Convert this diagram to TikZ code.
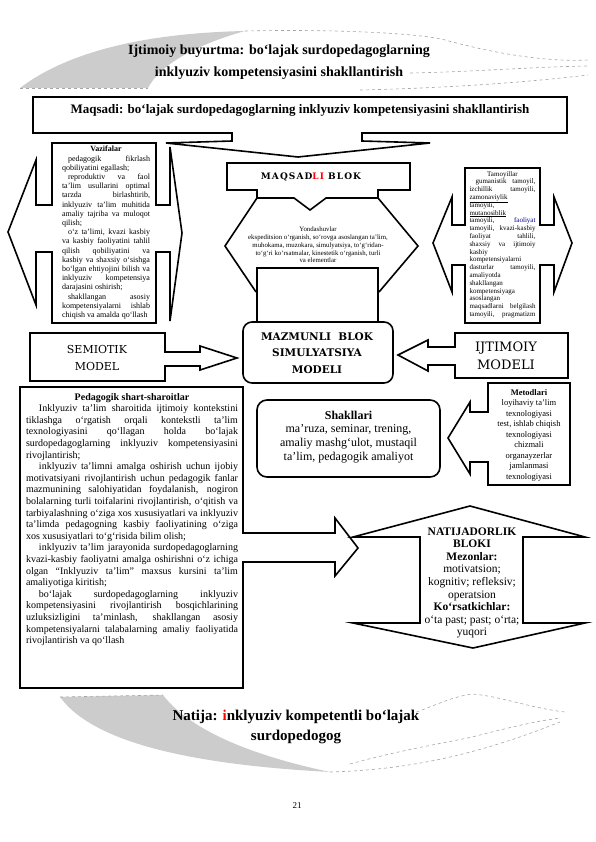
\documentclass[tikz,border=0pt]{standalone}
\usepackage{fontspec}
\setmainfont{Liberation Serif}
\newfontfamily\dvs{DejaVu Serif}
\newfontfamily\dvsls[LetterSpace=12]{DejaVu Serif}
\newlength\jw
\newcommand\JLine[1]{\hbox to\jw{\spaceskip=0.25em plus 3em minus 0.08em\relax #1}}
\newcommand\PLine[1]{\hbox to\jw{#1\hfil}}
\newcommand\CLine[1]{\hbox to\jw{\hfil#1\hfil}}
\tikzset{
  shp/.style={draw=black, line width=1.6pt, fill=white, line join=miter},
  band/.style={draw=gray!70, dashed, line width=0.6pt},
  bandfill/.style={fill=gray!40, draw=none},
  para/.style={anchor=north, inner sep=0pt},
}
\begin{document}
\begin{tikzpicture}[x=1pt,y=-1pt]
\useasboundingbox (0,0) rectangle (595,842);

% ---------- top banner ----------
\fill[bandfill] (20,88) .. controls (70,50) and (150,33) .. (245,31) .. controls (195,45) and (160,65) .. (148,88) -- cycle;
\draw[band] (20,88) -- (148,88);
\draw[band] (245,31) .. controls (330,29) and (420,33) .. (445,40) .. controls (500,55) and (550,62) .. (588,60);
\draw[band] (410,73) .. controls (470,72) and (530,67) .. (588,66);
\draw[band] (360,90) .. controls (450,88) and (530,82) .. (588,75);
\node[font=\fontsize{14}{22}\selectfont\bfseries, align=center] (title) at (279,62)
  {Ijtimoiy buyurtma: bo‘lajak surdopedagoglarning\\inklyuziv kompetensiyasini shakllantirish};

% ---------- Maqsadi ----------
\draw[shp] (33,97) -- (567,97) -- (567,133) -- (362,133) -- (362,141) -- (430,143) -- (298,157)
  -- (166,143) -- (232,141) -- (232,133) -- (33,133) -- cycle;
\node[font=\fontsize{13}{15}\selectfont\bfseries] (maqsadi) at (300,110)
  {Maqsadi: bo‘lajak surdopedagoglarning inklyuziv kompetensiyasini shakllantirish};

% ---------- Vazifalar ----------
\draw[shp] (52,143) -- (156,143) -- (156,205) -- (170,205) -- (170,147) -- (182,233) -- (170,321)
  -- (170,252) -- (156,252) -- (156,323) -- (52,323) -- (52,252) -- (36,252) -- (36,305)
  -- (8,232) -- (36,160) -- (36,205) -- (52,205) -- cycle;
\node[para, font=\fontsize{8}{9.2}\selectfont] (vaz) at (106,146) {\setlength\jw{88pt}%
\vbox{\hsize=\jw\baselineskip=9.2pt\lineskiplimit=-5pt
\CLine{\bfseries Vazifalar}
\JLine{\hspace*{6pt}pedagogik fikrlash}
\PLine{qobiliyatini egallash;}
\JLine{\hspace*{6pt}reproduktiv va faol}
\JLine{ta’lim usullarini optimal}
\JLine{tarzda birlashtirib,}
\JLine{inklyuziv ta’lim muhitida}
\JLine{amaliy tajriba va muloqot}
\PLine{qilish;}
\JLine{\hspace*{6pt}o‘z ta’limi, kvazi kasbiy}
\JLine{va kasbiy faoliyatini tahlil}
\JLine{qilish qobiliyatini va}
\JLine{kasbiy va shaxsiy o‘sishga}
\JLine{bo‘lgan ehtiyojini bilish va}
\JLine{inklyuziv kompetensiya}
\PLine{darajasini oshirish;}
\JLine{\hspace*{6pt}shakllangan asosiy}
\JLine{kompetensiyalarni ishlab}
\PLine{chiqish va amalda qo‘llash}}};

% ---------- Yondashuvlar ----------
\fill[white] (257,198) -- (378,198) -- (418,246) -- (380,292) -- (255,292) -- (225,246) -- cycle;
\draw[shp, fill=none] (257,198) -- (225,246) -- (256,292);
\draw[shp, fill=none] (378,198) -- (418,246) -- (379,292);
\draw[shp] (257,268) rectangle (378,330);
\node[align=center, font=\fontsize{6.8}{7.8}\selectfont] (yond) at (318,245)
  {Yondashuvlar\\
   ekspeditsion o‘rganish, so‘rovga asoslangan ta’lim,\\
   muhokama, muzokara, simulyatsiya, to‘g‘ridan-\\
   to‘g‘ri ko‘rsatmalar, kinestetik o‘rganish, turli\\
   va elementlar};

% ---------- MAQSADLI BLOK ----------
\draw[shp] (227,163) -- (410,163) -- (410,190) -- (378,190) -- (378,198) -- (326,198) -- (310,210)
  -- (294,198) -- (257,198) -- (257,190) -- (227,190) -- cycle;
\node[font=\dvsls\bfseries\fontsize{9}{11}\selectfont] (maqblok) at (311,177)
  {MAQSAD\textcolor{red}{LI} BLOK};

% ---------- Tamoyillar ----------
\draw[shp] (465,168) -- (540,168) -- (540,225) -- (554,225) -- (554,197) -- (572,243) -- (554,292)
  -- (554,265) -- (540,265) -- (540,323) -- (465,323) -- (465,265) -- (452,265) -- (452,292)
  -- (433,243) -- (452,197) -- (452,225) -- (465,225) -- cycle;
\node[para, font=\fontsize{7}{7.8}\selectfont] (tam) at (502.5,171) {\setlength\jw{66pt}%
\vbox{\hsize=\jw\baselineskip=7.8pt\lineskiplimit=-5pt
\CLine{Tamoyillar}
\JLine{\hspace*{6pt}gumanistik tamoyil,}
\JLine{izchillik tamoyili,}
\PLine{\underline{zamonaviylik}}
\PLine{tamoyili,}
\PLine{\underline{mutanosiblik}}
\JLine{tamoyili, \textcolor{blue!60!black}{faoliyat}}
\JLine{tamoyili, kvazi-kasbiy}
\JLine{faoliyat tahlili,}
\JLine{shaxsiy va ijtimoiy}
\PLine{kasbiy}
\PLine{kompetensiyalarni}
\JLine{dasturlar tamoyili,}
\PLine{amaliyotda}
\PLine{shakllangan}
\PLine{kompetensiyaga}
\PLine{asoslangan}
\JLine{maqsadlarni belgilash}
\JLine{tamoyili, pragmatizm}}};

% ---------- SEMIOTIK MODEL ----------
\draw[shp] (30,333) -- (165,333) -- (165,352) -- (200,352) -- (200,346) -- (237,358) -- (200,370)
  -- (200,366) -- (165,366) -- (165,381) -- (30,381) -- cycle;
\node[align=center, font=\dvs\fontsize{11}{17}\selectfont] (semt) at (97,358) {SEMIOTIK\\MODEL};

% ---------- MAZMUNLI BLOK ----------
\draw[shp, rounded corners=9pt] (243,322) rectangle (393,383);
\node[align=center, font=\dvs\bfseries\fontsize{10.5}{16.5}\selectfont] (mazt) at (317,353)
  {MAZMUNLI\ \ BLOK\\SIMULYATSIYA\\MODELI};

% ---------- IJTIMOIY MODELI ----------
\draw[shp] (568,333) -- (455,333) -- (455,347) -- (428,347) -- (428,340) -- (398,355) -- (428,371)
  -- (428,365) -- (455,365) -- (455,378) -- (568,378) -- cycle;
\node[align=center, font=\dvs\fontsize{13}{18}\selectfont] (ijtt) at (506,356) {IJTIMOIY\\MODELI};

% ---------- Pedagogik shart-sharoitlar ----------
\draw[shp] (20,387) -- (243,387) -- (243,533) -- (335,533) -- (335,518) -- (358,548) -- (335,576)
  -- (335,562) -- (243,562) -- (243,688) -- (20,688) -- cycle;
\node[para, font=\fontsize{10}{11.6}\selectfont] (ped) at (132,393) {\setlength\jw{212pt}%
\vbox{\hsize=\jw\baselineskip=11.6pt\lineskiplimit=-5pt
\CLine{\bfseries Pedagogik shart-sharoitlar}
\JLine{\hspace*{13pt}Inklyuziv ta’lim sharoitida ijtimoiy kontekstini}
\JLine{tiklashga o‘rgatish orqali kontekstli ta’lim}
\JLine{texnologiyasini qo‘llagan holda bo‘lajak}
\JLine{surdopedagoglarning inklyuziv kompetensiyasini}
\PLine{rivojlantirish;}
\JLine{\hspace*{13pt}inklyuziv ta’limni amalga oshirish uchun ijobiy}
\JLine{motivatsiyani rivojlantirish uchun pedagogik fanlar}
\JLine{mazmunining salohiyatidan foydalanish, nogiron}
\JLine{bolalarning turli toifalarini rivojlantirish, o‘qitish va}
\JLine{tarbiyalashning o‘ziga xos xususiyatlari va inklyuziv}
\JLine{ta’limda pedagogning kasbiy faoliyatining o‘ziga}
\PLine{xos xususiyatlari to‘g‘risida bilim olish;}
\JLine{\hspace*{13pt}inklyuziv ta’lim jarayonida surdopedagoglarning}
\JLine{kvazi-kasbiy faoliyatni amalga oshirishni o‘z ichiga}
\JLine{olgan “Inklyuziv ta’lim” maxsus kursini ta’lim}
\PLine{amaliyotiga kiritish;}
\JLine{\hspace*{13pt}bo‘lajak surdopedagoglarning inklyuziv}
\JLine{kompetensiyasini rivojlantirish bosqichlarining}
\JLine{uzluksizligini ta’minlash, shakllangan asosiy}
\JLine{kompetensiyalarni talabalarning amaliy faoliyatida}
\PLine{rivojlantirish va qo‘llash}}};

% ---------- Shakllari ----------
\draw[shp, rounded corners=10pt] (257,400) rectangle (440,477);
\node[align=center, font=\fontsize{12}{13.8}\selectfont] (shak) at (348.5,437)
  {\textbf{Shakllari}\\ma’ruza, seminar, trening,\\amaliy mashg‘ulot, mustaqil\\ta’lim, pedagogik amaliyot};

% ---------- Metodlari ----------
\draw[shp] (570,383) -- (488,383) -- (488,412) -- (470,412) -- (470,402) -- (448,438) -- (470,474)
  -- (470,462) -- (488,462) -- (488,485) -- (570,485) -- cycle;
\node[align=center, font=\fontsize{8.5}{10.5}\selectfont] (met) at (529,435)
  {\textbf{Metodlari}\\loyihaviy ta’lim\\texnologiyasi\\test, ishlab chiqish\\texnologiyasi\\chizmali\\organayzerlar\\jamlanmasi\\texnologiyasi};

% ---------- NATIJADORLIK ----------
\draw[shp] (353,537) -- (470,506) -- (585,537) -- (523,537) -- (523,623) -- (585,623) -- (473,648)
  -- (353,623) -- (420,623) -- (420,537) -- cycle;
\node[align=center, font=\fontsize{11.5}{12.6}\selectfont] (nat) at (472,583)
  {\textbf{NATIJADORLIK}\\\textbf{BLOKI}\\\textbf{Mezonlar:}\\motivatsion;\\kognitiv; refleksiv;\\operatsion\\\textbf{Ko‘rsatkichlar:}\\o‘ta past; past; o‘rta;\\yuqori};

% ---------- bottom banner ----------
\fill[bandfill] (60,697) -- (163,695) .. controls (190,730) and (250,755) .. (330,772)
  .. controls (200,765) and (95,745) .. (60,697) -- cycle;
\draw[band] (60,697) -- (163,695);
\draw[band] (330,772) .. controls (400,770) and (470,758) .. (560,722);
\draw[band] (405,716) .. controls (430,708) and (450,697) .. (472,694) .. controls (500,696) and (530,708) .. (565,712);
\draw[band] (350,764) .. controls (400,750) and (450,742) .. (472,737) .. controls (500,730) and (530,722) .. (560,718);
\node[font=\fontsize{15}{20}\selectfont\bfseries, align=center] (natija) at (296,727)
  {Natija: \textcolor{red}{i}nklyuziv kompetentli bo‘lajak\\surdopedogog};

\node[font=\fontsize{9}{10}\selectfont] (pg) at (297,806) {21};
\end{tikzpicture}
\end{document}
